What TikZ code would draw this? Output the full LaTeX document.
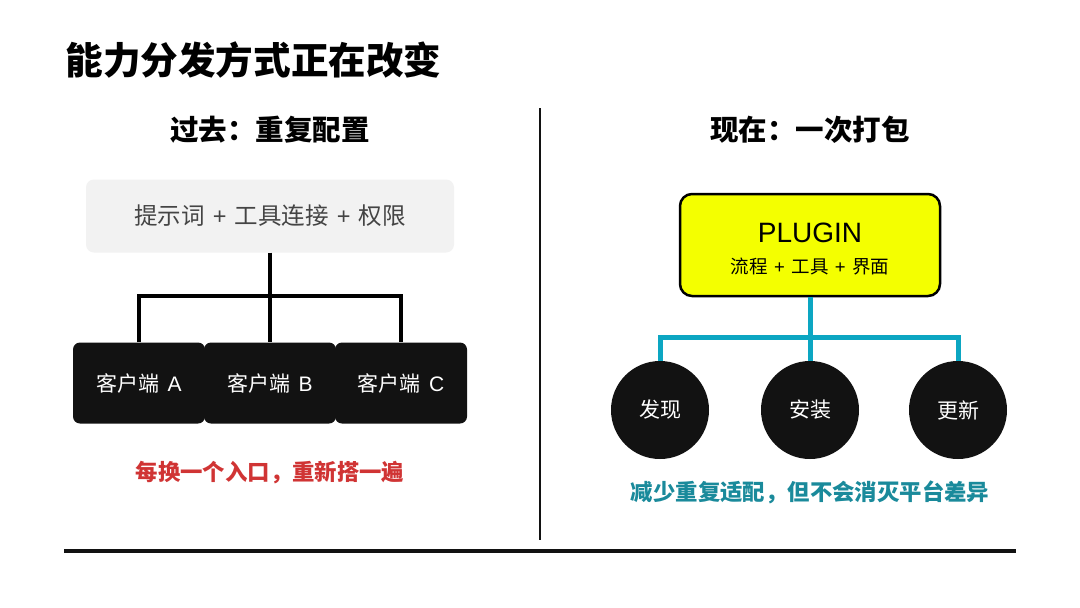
\documentclass[tikz,border=0pt]{standalone}
\usepackage{fontspec}
\setmainfont{Noto Sans CJK SC}
\newfontfamily\latin{Liberation Sans}
\usepackage{xcolor}
\definecolor{boxgrey}{HTML}{F2F2F2}
\definecolor{textgrey}{HTML}{444444}
\definecolor{nearblack}{HTML}{121212}
\definecolor{plugyellow}{HTML}{F4FF00}
\definecolor{tealline}{HTML}{0CA6C2}
\definecolor{tealtext}{HTML}{1A8A9B}
\definecolor{warnred}{HTML}{D03434}
\newcommand{\plussep}{{\latin\hspace{0.35em}+\hspace{0.35em}}}
\tikzstyle{greybox}=[rectangle, rounded corners=8pt, fill=boxgrey, minimum width=368pt, minimum height=73pt, inner sep=0pt, text=textgrey, font=\fontsize{23.5}{27}\selectfont]
\tikzstyle{client}=[rectangle, rounded corners=7pt, fill=nearblack, minimum width=132pt, minimum height=81pt, inner sep=0pt, text=white, font=\fontsize{21}{25}\selectfont]
\tikzstyle{plugin}=[rectangle, rounded corners=12pt, fill=plugyellow, draw=black, line width=2.5pt, minimum width=260pt, minimum height=102pt, inner sep=0pt]
\tikzstyle{stage}=[circle, fill=nearblack, minimum size=98pt, inner sep=0pt, text=white, font=\fontsize{21}{25}\selectfont]
\tikzstyle{heading}=[font=\fontsize{28.5}{32}\selectfont\bfseries, text=black]
\tikzstyle{edge}=[draw, line width=4pt, black]
\tikzstyle{tealedge}=[edge, line width=5pt, tealline]
\begin{document}
\begin{tikzpicture}[x=1pt, y=-1pt]
\useasboundingbox[fill=white] (0,0) rectangle (1080,608);

% title and frame
\node[anchor=west, font=\fontsize{37.6}{42}\selectfont\bfseries] (title) at (62,60) {能力分发方式正在改变};
\coordinate (div_t) at (540,108);
\coordinate (div_b) at (540,540);
\draw[line width=2pt, nearblack] (div_t) -- (div_b);
\coordinate (rule_l) at (64,551);
\coordinate (rule_r) at (1016,551);
\draw[line width=4pt, nearblack] (rule_l) -- (rule_r);

% left: before
\node[heading] (h_1) at (270,130) {过去：重复配置};
\node[greybox] (p) at (270,216) {提示词\plussep 工具连接\plussep 权限};
\node[client] (c_1) at (139,383) {客户端\hspace{0.4em}{\latin A}};
\node[client] (c_2) at (270,383) {客户端\hspace{0.4em}{\latin B}};
\node[client] (c_3) at (401,383) {客户端\hspace{0.4em}{\latin C}};
\coordinate (j) at (270,296);
\draw[edge] (p.south) -- (c_2.north);
\draw[edge] (c_1.north) |- (j) -| (c_3.north);
\node[text=warnred, font=\fontsize{22.4}{26}\selectfont\bfseries] (note_1) at (270,473) {每换一个入口，重新搭一遍};

% right: now
\node[heading] (h_2) at (810,130) {现在：一次打包};
\node[plugin] (plug) at (810,245) {};
\node[font=\fontsize{28}{32}\latin\selectfont] (plug_t) at (810,233) {PLUGIN};
\node[font=\fontsize{18.5}{22}\selectfont] (plug_s) at (810,267) {流程\plussep 工具\plussep 界面};
\node[stage] (s_1) at (660,410) {发现};
\node[stage] (s_2) at (810,410) {安装};
\node[stage] (s_3) at (958,410) {更新};
\coordinate (k) at (810,337);
\draw[tealedge] (plug.south) -- (s_2.north);
\draw[tealedge] (s_1.north) |- (k) -| (s_3.north);
\node[text=tealtext, font=\fontsize{22.4}{26}\selectfont\bfseries] (note_2) at (810,492) {减少重复适配，但不会消灭平台差异};
\end{tikzpicture}
\end{document}
